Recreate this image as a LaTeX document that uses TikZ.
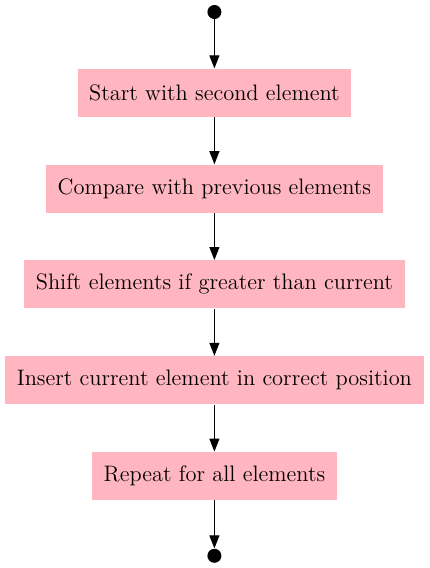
\documentclass[tikz,border=0pt]{standalone}
\usepackage{tikz}
\usetikzlibrary{arrows.meta,positioning}
\definecolor{boxpink}{HTML}{FFB6C1}

\begin{document}
\begin{tikzpicture}[
    stepbox/.style={fill=boxpink,draw=none,minimum height=24pt,inner xsep=5.8pt,font=\fontsize{11.2}{13.4}\selectfont},
    dot/.style={circle,fill=black,inner sep=0pt,minimum size=7pt},
    flow/.style={-{Triangle[length=6.5pt,width=5pt]},line width=0.5pt},
    node distance=23.5pt
]
    \useasboundingbox (0,0) rectangle (214.5pt,-284pt);

    \node[dot] (start) at (107.2pt,-6pt) {};
    \node[stepbox,below=24.5pt of start] (second) {Start with second element};
    \node[stepbox,below=of second] (compare) {Compare with previous elements};
    \node[stepbox,below=of compare] (shift) {Shift elements if greater than current};
    \node[stepbox,below=of shift] (insert) {Insert current element in correct position};
    \node[stepbox,below=of insert] (repeat) {Repeat for all elements};
    \node[dot,below=24pt of repeat] (stop) {};

    \draw[flow] (start) -- (second);
    \draw[flow] (second) -- (compare);
    \draw[flow] (compare) -- (shift);
    \draw[flow] (shift) -- (insert);
    \draw[flow] (insert) -- (repeat);
    \draw[flow] (repeat) -- (stop);
\end{tikzpicture}
\end{document}
